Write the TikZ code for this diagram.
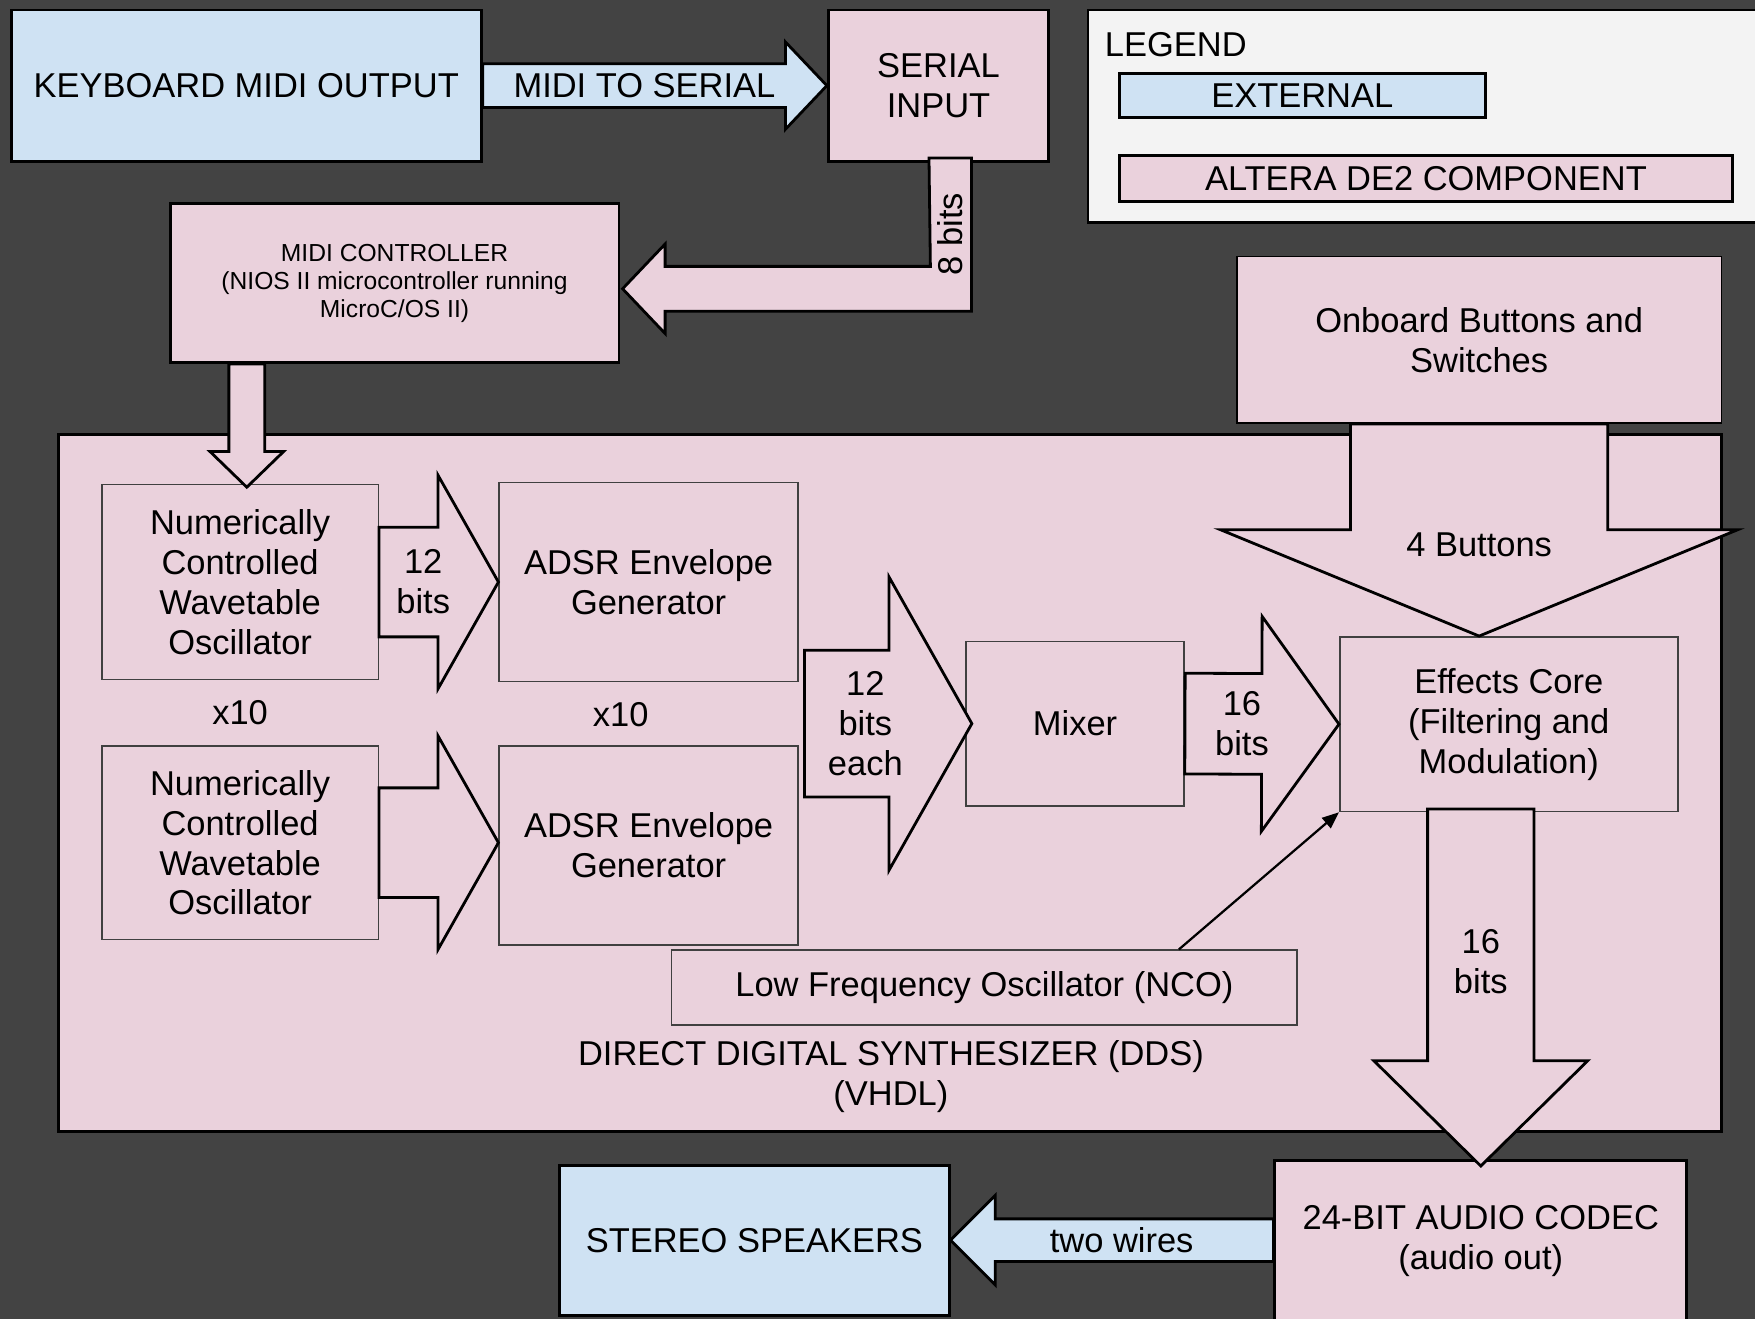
\documentclass[tikz,border=0pt]{standalone}
\usepackage{fontspec}
\setmainfont{Liberation Sans}
\usetikzlibrary{positioning,calc,arrows.meta}

\definecolor{extblue}{HTML}{CFE2F3}
\definecolor{de2pink}{HTML}{EAD1DC}
\definecolor{bggray}{HTML}{434343}
\definecolor{legendgray}{HTML}{F3F3F3}

% block arrow: [style]{tail}{tip}{shaft half width}{head half width}{head length}
\newcommand\fatarrow[6][]{%
    \path (#2) coordinate (ftail) (#3) coordinate (ftip)
          ($(ftip)!#6pt!(ftail)$) coordinate (fhead);
    \draw [fat arrow, #1]
        ($(ftail)!#4pt!90:(ftip)$) -- ($(fhead)!#4pt!90:(ftip)$)
        -- ($(fhead)!#5pt!90:(ftip)$) -- (ftip)
        -- ($(fhead)!#5pt!270:(ftip)$) -- ($(fhead)!#4pt!270:(ftip)$)
        -- ($(ftail)!#4pt!270:(ftip)$) -- cycle;
}

\begin{document}
\begin{tikzpicture}
            [
            x=1pt, y=-1pt,
            txt/.style={font=\fontsize{30.8}{35.7}\selectfont, align=center, text=black},
            small txt/.style={font=\fontsize{22}{25}\selectfont, align=center},
            wh/.style 2 args={minimum width=#1pt, minimum height=#2pt},
            box/.style={draw=black, line width=2.5pt, inner sep=0pt, txt},
            ext box/.style={box, fill=extblue},
            de2 box/.style={box, fill=de2pink},
            part box/.style={draw=black!75, line width=1.4pt, fill=de2pink, inner sep=0pt, txt},
            fat arrow/.style={draw=black, line width=2.5pt, line join=miter, fill=de2pink},
            link/.style={draw=black, line width=2pt, -{Triangle[length=15pt, width=12pt]}}
            ]

            \useasboundingbox (0,0) rectangle (1568,1178);
            \clip (0,0) rectangle (1568,1178);
            \fill [bggray] (0,0) rectangle (1568,1178);

            % Legend
            \node (leg) [box, fill=legendgray, wh={628}{190}] at (1286,104) {};
            \node (legtitle) [txt, anchor=west, inner sep=0pt] at (987,40) {LEGEND};
            \node (legext) [ext box, wh={327}{39}] at (1163.5,85.5) {EXTERNAL};
            \node (legde2) [de2 box, wh={548}{41}] at (1274,159.5) {ALTERA DE2 COMPONENT};

            % Outer blocks
            \node (kbd) [ext box, wh={420}{135}] at (220,76.5) {KEYBOARD MIDI OUTPUT};
            \node (ser) [de2 box, wh={197}{135}] at (838.5,76.5) {SERIAL\\INPUT};
            \node (mc) [de2 box, small txt, wh={401}{142}] at (352.5,253)
                {MIDI CONTROLLER\\(NIOS II microcontroller running\\MicroC/OS II)};
            \node (ob) [part box, draw=black, wh={433}{149}] at (1321.5,303.5)
                {Onboard Buttons and\\Switches};
            \node (dds) [de2 box, wh={1486}{623}] at (795,699.5) {};
            \node (cod) [de2 box, wh={368}{143}] at (1323,1108.5) {24-BIT AUDIO CODEC\\(audio out)};
            \node (spk) [ext box, wh={348}{134}] at (674,1108) {STEREO SPEAKERS};

            % Inside the DDS
            \node (nco1) [part box, wh={247}{174}] at (214.5,520)
                {Numerically\\Controlled\\Wavetable\\Oscillator};
            \node (nco2) [below=58pt of nco1, part box, wh={247}{173}]
                {Numerically\\Controlled\\Wavetable\\Oscillator};
            \node (adsr1) [part box, wh={267}{178}] at (579.5,520) {ADSR Envelope\\Generator};
            \node (adsr2) [below=56pt of adsr1, part box, wh={267}{178}] {ADSR Envelope\\Generator};
            \node (ncorep) [txt] at ($(nco1.south)!0.5!(nco2.north)$) {x10};
            \node (adsrrep) [txt] at ($(adsr1.south)!0.5!(adsr2.north)+(-25,1)$) {x10};
            \node (mix) [part box, wh={195}{147}] at (960.5,646.5) {Mixer};
            \node (fx) [part box, wh={302}{156}] at (1348,647)
                {Effects Core\\(Filtering and\\Modulation)};
            \node (lfo) [part box, wh={559}{67}] at (879.5,882.5) {Low Frequency Oscillator (NCO)};
            \node (ddstxt) [txt] at ($(dds.south)+(1,-50)$) {DIRECT DIGITAL SYNTHESIZER (DDS)\\(VHDL)};

            % Block arrows
            \fatarrow[fill=extblue]{kbd.east}{ser.west}{19.5}{39}{37}
            \draw [fat arrow] ($(ser.south)+(-8.5,-4)$) -- ++(38,0)
                |- ($(mc.east)+(40,25)$) -- ++(0,20) -- ($(mc.east)+(2,5)$)
                -- ++(38,-40) -- ++(0,20) -- ++(237,0) -- cycle;
            \fatarrow{$(nco1.north |- mc.south)+(6,0)$}{$(nco1.north)+(6,3)$}{16}{33}{32}
            \fatarrow{nco1.east}{adsr1.west}{49}{95.5}{54}
            \fatarrow{nco2.east}{adsr2.west |- nco2.east}{49}{95.5}{54}
            \fatarrow{$(adsr1.east |- mix.west)+(5,0)$}{$(mix.west)+(6,0)$}{65.5}{131}{74}
            \fatarrow{mix.east}{fx.west}{45}{96}{69}
            \fatarrow{ob.south}{ob.south |- fx.north}{115}{231}{95}
            \fatarrow{$(cod.north |- fx.south)+(0,-3)$}{$(cod.north)+(0,6)$}{47.5}{95.5}{94}
            \fatarrow[fill=extblue]{cod.west |- spk.east}{spk.east}{19}{40}{40}

            \draw [link] ($(lfo.north west)!0.81!(lfo.north east)$) -- (fx.south west);

            % Arrow labels
            \node (midiser) [txt] at ($(kbd.east)!0.47!(ser.west)$) {MIDI TO SERIAL};
            \node (eightbits) [txt, rotate=90] at ($(ser.south)+(10.5,64)$) {8 bits};
            \node (ncobits) [txt] at ($(nco1.east)!0.37!(adsr1.west)$) {12\\bits};
            \node (adsrbits) [txt] at ($(adsr1.east |- mix.west)!0.4!(mix.west)$) {12\\bits\\each};
            \node (mixbits) [txt] at ($(mix.east)!0.37!(fx.west)$) {16\\bits};
            \node (buttons) [txt] at ($(ob.south)!0.57!(ob.south |- fx.north)$) {4 Buttons};
            \node (fxbits) [txt] at ($(cod.north |- fx.south)!0.43!(cod.north)$) {16\\bits};
            \node (wires) [txt] at ($(cod.west |- spk.east)!0.47!(spk.east)$) {two wires};

        \end{tikzpicture}
\end{document}
